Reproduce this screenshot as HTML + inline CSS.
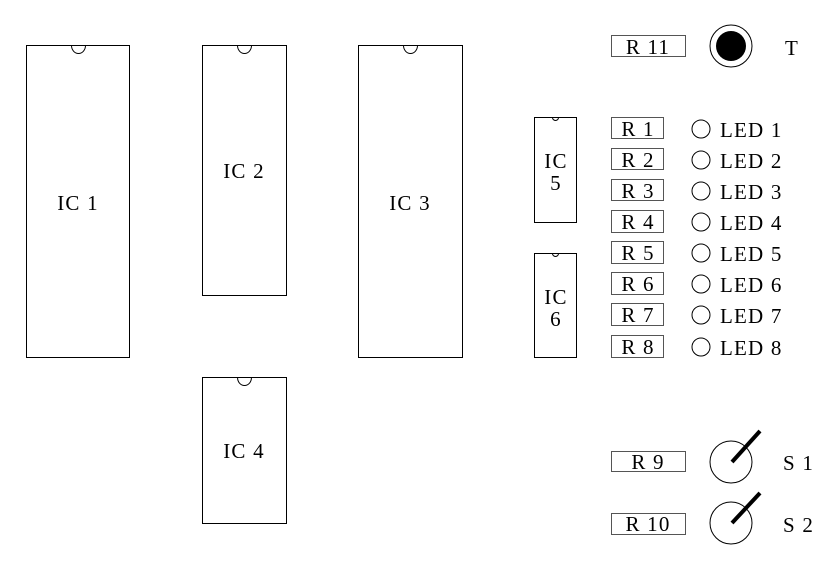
<!DOCTYPE html>
<html><head><style>body{margin:0;background:#fff}svg{display:block}text{font-family:"Liberation Serif",serif;font-size:21px;letter-spacing:1.2px;fill:#000}</style></head><body>
<svg width="837" height="570" viewBox="0 0 837 570" xmlns="http://www.w3.org/2000/svg">
<g fill="none" stroke="#000" stroke-width="1">
<rect x="26.5" y="45.5" width="103" height="312"/>
<path d="M71.5 45.5 A7 8 0 0 0 85.5 45.5"/>
<rect x="202.5" y="45.5" width="84" height="250"/>
<path d="M237.5 45.5 A7 8 0 0 0 251.5 45.5"/>
<rect x="358.5" y="45.5" width="104" height="312"/>
<path d="M403.5 45.5 A7 8 0 0 0 417.5 45.5"/>
<rect x="202.5" y="377.5" width="84" height="146"/>
<path d="M237.5 377.5 A7 8 0 0 0 251.5 377.5"/>
<rect x="534.5" y="117.5" width="42" height="105"/>
<path d="M552.5 117.5 A3 3 0 0 0 558.5 117.5"/>
<rect x="534.5" y="253.5" width="42" height="104"/>
<path d="M552.5 253.5 A3 3 0 0 0 558.5 253.5"/>
<rect x="611.5" y="35.5" width="74" height="21" stroke="#555"/>
<circle cx="731" cy="46" r="21"/>
<rect x="611.5" y="451.5" width="74" height="20" stroke="#555"/>
<rect x="611.5" y="513.5" width="74" height="21" stroke="#555"/>
<circle cx="731" cy="462" r="21"/>
<circle cx="731" cy="523" r="21"/>
<rect x="611.5" y="117.5" width="52" height="21" stroke="#555"/>
<rect x="611.5" y="148.5" width="52" height="21" stroke="#555"/>
<rect x="611.5" y="179.5" width="52" height="21" stroke="#555"/>
<rect x="611.5" y="210.5" width="52" height="22" stroke="#555"/>
<rect x="611.5" y="241.5" width="52" height="22" stroke="#555"/>
<rect x="611.5" y="272.5" width="52" height="22" stroke="#555"/>
<rect x="611.5" y="303.5" width="52" height="22" stroke="#555"/>
<rect x="611.5" y="335.5" width="52" height="22" stroke="#555"/>
<circle cx="701" cy="129" r="9"/>
<circle cx="701" cy="160" r="9"/>
<circle cx="701" cy="191" r="9"/>
<circle cx="701" cy="222" r="9"/>
<circle cx="701" cy="253" r="9"/>
<circle cx="701" cy="284" r="9"/>
<circle cx="701" cy="315" r="9"/>
<circle cx="701" cy="347" r="9"/>
</g>
<circle cx="731" cy="46" r="15" fill="#000"/>
<g stroke="#000" stroke-width="4"><line x1="732" y1="462" x2="760" y2="431"/><line x1="732" y1="523" x2="760" y2="493"/></g>
<text x="78" y="210" text-anchor="middle">IC 1</text>
<text x="244" y="178" text-anchor="middle">IC 2</text>
<text x="410" y="210" text-anchor="middle">IC 3</text>
<text x="244" y="458" text-anchor="middle">IC 4</text>
<text x="556" y="168" text-anchor="middle">IC</text>
<text x="556" y="190" text-anchor="middle">5</text>
<text x="556" y="304" text-anchor="middle">IC</text>
<text x="556" y="326" text-anchor="middle">6</text>
<text x="648" y="54" text-anchor="middle">R 11</text>
<text x="792" y="55" text-anchor="middle">T</text>
<g text-anchor="middle">
<text x="638" y="136">R 1</text><text x="638" y="167">R 2</text><text x="638" y="198">R 3</text><text x="638" y="229">R 4</text>
<text x="638" y="260">R 5</text><text x="638" y="291">R 6</text><text x="638" y="322">R 7</text><text x="638" y="354">R 8</text>
<text x="648" y="469">R 9</text><text x="648" y="531">R 10</text>
</g>
<text x="720" y="137">LED 1</text><text x="720" y="168">LED 2</text><text x="720" y="199">LED 3</text><text x="720" y="230">LED 4</text>
<text x="720" y="261">LED 5</text><text x="720" y="292">LED 6</text><text x="720" y="323">LED 7</text><text x="720" y="355">LED 8</text>
<text x="783" y="470">S 1</text><text x="783" y="532">S 2</text>
</svg>
</body></html>
